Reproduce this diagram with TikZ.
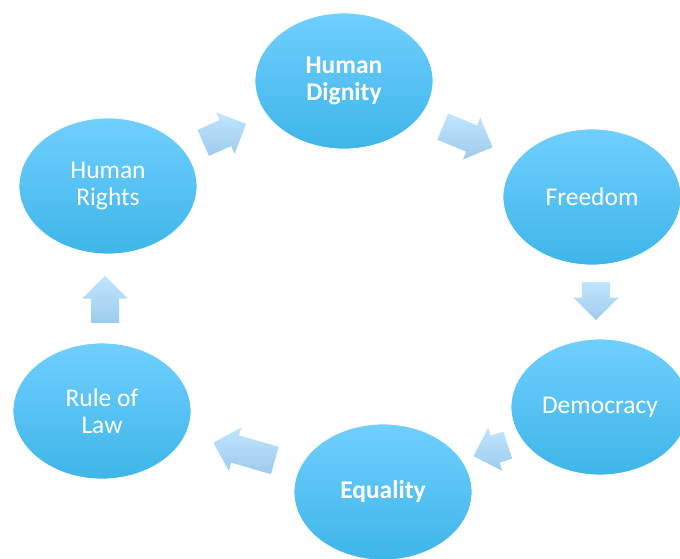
\documentclass[tikz,border=0pt]{standalone}
\usepackage{fontspec}
\setmainfont{Carlito}
\usepackage{tikz}
\usetikzlibrary{shapes.geometric,shapes.arrows}
\definecolor{bubbletop}{RGB}{112,207,255}
\definecolor{bubblemid}{RGB}{80,198,253}
\definecolor{bubblebot}{RGB}{62,181,232}
\definecolor{arrowtop}{RGB}{192,229,255}
\definecolor{arrowbot}{RGB}{158,203,236}

\begin{document}
\begin{tikzpicture}[x=1pt,y=-1pt,
  bubble/.style={ellipse,minimum width=178pt,minimum height=136pt,inner sep=0pt,
    top color=bubbletop,middle color=bubblemid,bottom color=bubblebot,
    draw=white,line width=0.8pt,text=white,align=center,
    font=\fontsize{25.5}{27.5}\selectfont},
  boldtext/.style={font=\fontsize{25.5}{27.5}\selectfont\bfseries},
  blockarrow/.style={single arrow,single arrow head extend=8.5pt,
    inner xsep=0pt,inner ysep=14pt,top color=arrowtop,bottom color=arrowbot,
    anchor=tail,rotate=#1}]
\useasboundingbox (0,0) rectangle (680,558);
% the six values
\node[bubble,boldtext] (dignity) at (344,81) {Human\\Dignity};
\node[bubble] (freedom) at (592,197) {Freedom};
\node[bubble] (democracy) at (600,407) {Democracy};
\node[bubble,boldtext] (equality) at (383,492) {Equality};
\node[bubble] (law) at (102,411) {Rule of\\Law};
\node[bubble] (rights) at (108,186) {Human\\Rights};
% block arrows between them, placed by their tails
\node[blockarrow=24,minimum height=47pt] (toDignity) at (203,143) {};
\node[blockarrow=-22.5,minimum height=54pt] (toFreedom) at (442.5,126.5) {};
\node[blockarrow=-90,minimum height=38pt] (toDemocracy) at (596,282) {};
\node[blockarrow=198,minimum height=36pt] (toEquality) at (508,445) {};
\node[blockarrow=164,minimum height=64pt] (toLaw) at (275,460.5) {};
\node[blockarrow=90,minimum height=47pt] (toRights) at (105,323) {};
\end{tikzpicture}
\end{document}
